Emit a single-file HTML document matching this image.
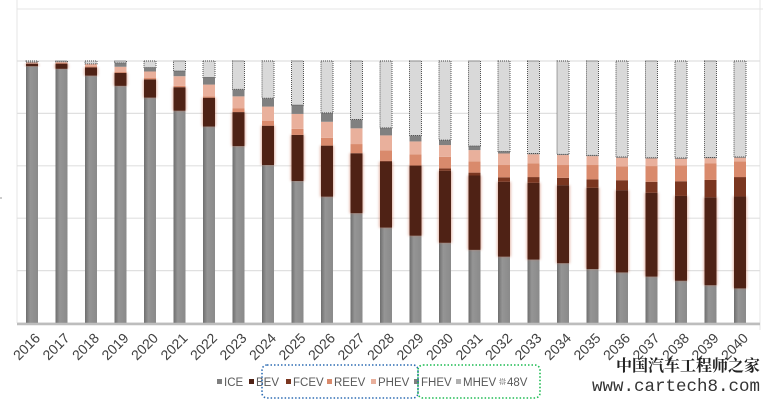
<!DOCTYPE html>
<html><head><meta charset="utf-8">
<style>
html,body{margin:0;padding:0;background:#fff;}
body{width:763px;height:401px;overflow:hidden;position:relative;font-family:"Liberation Sans",sans-serif;}
svg{position:absolute;left:0;top:0;}
</style></head>
<body>
<svg id="chart" width="763" height="401" viewBox="0 0 763 401">
  <defs>
    <linearGradient id="gIce" x1="0" x2="1" y1="0" y2="0">
      <stop offset="0" stop-color="#6e6e6e"/><stop offset="0.35" stop-color="#959595"/><stop offset="1" stop-color="#8a8a8a"/>
    </linearGradient>
    <filter id="glow" x="-50%" y="-10%" width="200%" height="120%"><feGaussianBlur stdDeviation="1.2"/></filter>
  </defs>
  <line x1="17" y1="9" x2="763" y2="9" stroke="#e4e4e4" stroke-width="1"/>
  <line x1="17" y1="0" x2="17" y2="323" stroke="#e4e4e4" stroke-width="1"/>
  <line x1="760" y1="0" x2="760" y2="330" stroke="#e4e4e4" stroke-width="1"/>
  <line x1="0" y1="198" x2="2" y2="198" stroke="#999" stroke-width="1"/>
  <g id="grid"></g>
  <g id="bars"></g>
  <line x1="17" y1="324" x2="760" y2="324" stroke="#bdbdbd" stroke-width="2.5"/>
  <g id="xlabels"></g>
  <g id="legend" font-size="11.5" fill="#595959"></g>
  <rect x="262" y="365" width="156" height="33" rx="5" fill="none" stroke="#2e6db4" stroke-width="1.6" stroke-dasharray="1.5,2"/>
  <rect x="418" y="365" width="122" height="33" rx="5" fill="none" stroke="#1dbb52" stroke-width="1.6" stroke-dasharray="1.5,2"/>
  <text x="760" y="371" text-anchor="end" font-family="'Liberation Serif','Noto Serif CJK SC',serif" font-weight="bold" font-size="16" fill="#222">中国汽车工程师之家</text>
  <text x="760" y="391" text-anchor="end" font-family="'Liberation Mono',monospace" font-size="17.5" fill="#333">www.cartech8.com</text>
</svg>
<script>
const years = ['2016','2017','2018','2019','2020','2021','2022','2023','2024','2025','2026','2027','2028','2029','2030','2031','2032','2033','2034','2035','2036','2037','2038','2039','2040'];
const seriesNames = ['ICE','BEV','FCEV','REEV','PHEV','FHEV','MHEV','48V'];
const ice  = [98,97,94.4,90.5,86,81,75,67.5,60.3,54.2,48.2,41.9,36.4,33.3,30.6,27.9,25.3,24.2,22.8,20.6,19.3,17.7,16.1,14.4,13.2];
const bev  = [1,2,3.2,5,7,9,11,13,15,17.6,19.5,22.9,25.2,26.8,27.5,28.4,28.6,29.3,29.8,31,31.4,32,32.4,33.6,35.1];
const fcev = [0,0,0,0,0,0,0,0,0,0,0,0,0.3,0,0.9,1.1,1.7,2.2,2.8,3.2,3.8,4.2,5.6,6.6,7.4];
const reev = [0,0.3,0.3,0.3,0.5,0.5,0.5,1.5,1.8,2.3,3,3.5,4,4.2,4.4,4.3,4.7,5.2,4.9,5.5,5.3,6,6.1,6.4,6];
const phev = [0.5,0.4,1,2,2.5,3.7,4.5,4.5,5.5,5.7,6.1,6,5.7,5,4.5,4.3,4.4,3.5,3.8,3.4,3.3,2.9,2.5,1.9,1.4];
const fhev = [0,0,0,1.5,1.5,2,2.7,2.7,3.2,3.4,3.4,3.4,2.9,2.3,1.9,1.6,0.8,0.3,0.3,0.3,0.3,0.3,0.3,0.3,0.3];
const mhev = [0,0,0,0,0,0,0,0,0,0,0,0,0,0,0,0,0,0,0,0,0,0,0,0,0];
const v48  = [0.5,0.3,1.1,1,2.5,3.8,6.3,10.8,14.2,16.8,19.8,22.3,25.5,28.4,30.2,32.4,34.5,35.3,35.6,36,36.6,36.9,37,36.8,36.6];
const gridTicks = [0,20,40,60,80,100];

const NS='http://www.w3.org/2000/svg';
const plotTop=61, plotBottom=323, x0=32, step=29.5, barW=12;
function yScale(v){return plotBottom-(v/100)*(plotBottom-plotTop);}
function xScale(i){return x0+i*step;}
function mk(tag,attrs,parent){const e=document.createElementNS(NS,tag);for(const k in attrs)e.setAttribute(k,attrs[k]);parent.appendChild(e);return e;}

const grid=document.getElementById('grid');
gridTicks.forEach(t=>{
  const l=mk('line',{x1:17,x2:760,y1:yScale(t),y2:yScale(t),stroke:'#e0e0e0','stroke-width':1.2},grid);
  
  
});

const seriesData=[ice,bev,fcev,reev,phev,fhev,mhev,v48];
const fills=['url(#gIce)','#4f2215','#7a3620','#d98a6c','#e9b09c','#808080','#b0b0b0','#d9d9d9'];
const bars=document.getElementById('bars');
years.forEach((yr,i)=>{
  const g=mk('g',{},bars);
  
  
  let cum=0;
  const cx=xScale(i);
  seriesData.forEach((arr,s)=>{
    const v=arr[i];
    if(v<=0){return;}
    const yTop=Math.max(yScale(cum+v),plotTop);
    const yBot=yScale(cum);
    cum+=v;
    const h=yBot-yTop;
    if(h<=0)return;
    if(s===1){
      const gl=mk('rect',{x:cx-barW/2-1,y:yTop,width:barW+2,height:h,fill:'#c9755a',opacity:0.5,filter:'url(#glow)'},g);
      
      
    }
    const r=mk('rect',{x:cx-barW/2,y:yTop,width:barW,height:h,fill:fills[s]},g);
    
    
    if(s===7){r.setAttribute('stroke','#444');r.setAttribute('stroke-width','0.9');r.setAttribute('stroke-dasharray','1,1');}
  });
});

const xl=document.getElementById('xlabels');
years.forEach((yr,i)=>{
  const x=xScale(i)+9, y=339;
  const t=mk('text',{x:x,y:y,'text-anchor':'end','font-size':14,fill:'#404040',transform:'rotate(-45 '+x+' '+y+')'},xl);
  t.textContent=yr;
  
  
});

const legend=document.getElementById('legend');
const legX=[217,249,286,327,371,414,456,500];
const legFill=['#7f7f7f','#4f2215','#7a3620','#d98a6c','#e9b09c','#808080','#b0b0b0','#d9d9d9'];
seriesNames.forEach((n,s)=>{
  const g=mk('g',{},legend);
  
  
  const r=mk('rect',{x:legX[s],y:379,width:5,height:5,fill:legFill[s]},g);
  if(s===7){r.setAttribute('stroke','#555');r.setAttribute('stroke-width','0.7');r.setAttribute('stroke-dasharray','1,1');}
  const t=mk('text',{x:legX[s]+7,y:386},g);
  t.textContent=n;
});
</script>
</body></html>
